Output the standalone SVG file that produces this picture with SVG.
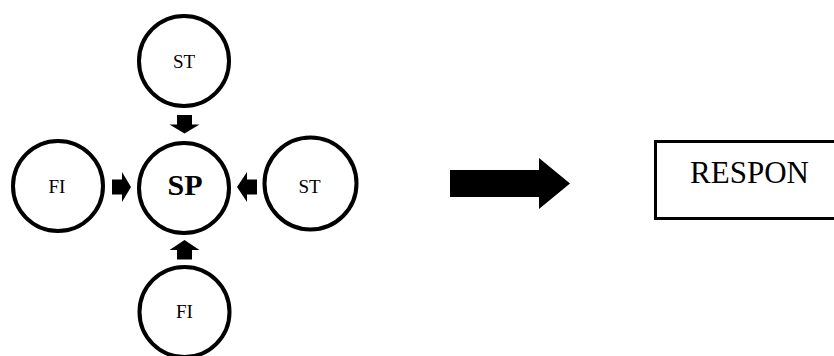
<svg xmlns="http://www.w3.org/2000/svg" width="834" height="356" viewBox="0 0 834 356">
  <style>
    .node circle { fill: #ffffff; stroke: #000000; stroke-width: 4; }
    .lbl { font-family: "Liberation Serif", "Times New Roman", serif; fill: #000000; text-anchor: middle; }
    .small { font-size: 19px; }
    .big { font-size: 30px; font-weight: bold; }
    .resp { font-size: 31px; }
    .arrow { fill: #000000; stroke: none; }
  </style>
  <rect x="0" y="0" width="834" height="356" fill="#ffffff"/>
  <g id="node-st-top" class="node">
    <circle cx="184" cy="61" r="45"/>
    <text class="lbl small" x="184" y="67.5">ST</text>
  </g>
  <g id="node-sp" class="node">
    <circle cx="184" cy="188" r="45"/>
    <text class="lbl big" x="185" y="195">SP</text>
  </g>
  <g id="node-fi-left" class="node">
    <circle cx="58" cy="186" r="45"/>
    <text class="lbl small" x="57" y="193.3">FI</text>
  </g>
  <g id="node-st-right" class="node">
    <circle cx="310.5" cy="183.5" r="46"/>
    <text class="lbl small" x="309.5" y="193.3">ST</text>
  </g>
  <g id="node-fi-bottom" class="node">
    <circle cx="184.5" cy="312" r="45"/>
    <text class="lbl small" x="184.5" y="318.3">FI</text>
  </g>
  <g id="node-respon">
    <rect x="655.5" y="141.5" width="200" height="77" fill="#ffffff" stroke="#000000" stroke-width="3"/>
    <text class="lbl resp" x="749.5" y="183">RESPON</text>
  </g>
  <g id="connectors">
    <polygon class="arrow" points="177,115 192,115 192,124.5 199.5,124.5 184.5,133.5 169.5,124.5 177,124.5"/>
    <polygon class="arrow" points="184.5,240 199.5,250 192,250 192,259.5 177,259.5 177,250 169.5,250"/>
    <polygon class="arrow" points="112,179.5 122,179.5 122,172 131,187 122,202 122,194.5 112,194.5"/>
    <polygon class="arrow" points="257,179.5 247,179.5 247,172 237,187 247,202 247,194.5 257,194.5"/>
    <polygon class="arrow" points="450,170 539,170 539,158 570,183.5 539,209 539,197 450,197"/>
  </g>
</svg>
